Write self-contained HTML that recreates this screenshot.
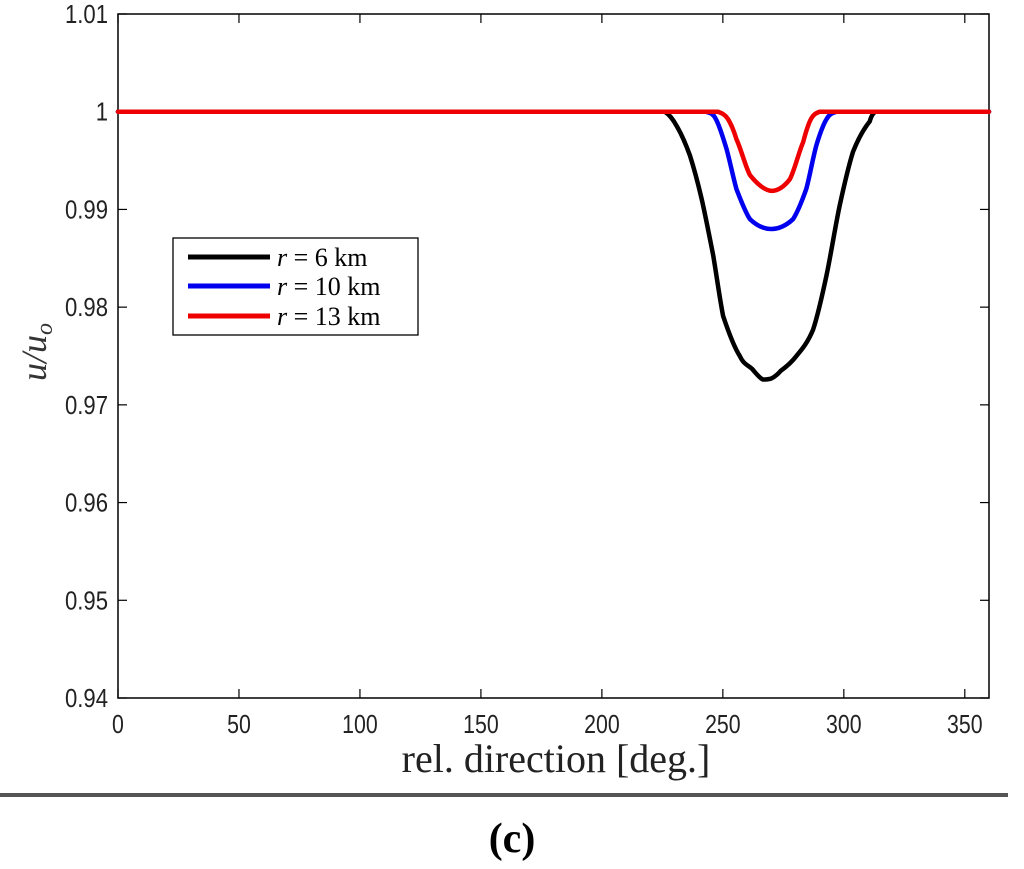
<!DOCTYPE html>
<html><head><meta charset="utf-8"><style>
body{margin:0;background:#fff;width:1024px;height:864px;overflow:hidden}
.sans{font-family:"Liberation Sans",sans-serif}
.serif{font-family:"Liberation Serif",serif}
</style></head><body>
<svg id="chart" width="1024" height="864" xmlns="http://www.w3.org/2000/svg">
<g id="axes"></g>
<g id="series"></g>
<g>
<rect x="173" y="238" width="245" height="97" fill="#fff" stroke="#000" stroke-width="1.3"/>
<line x1="188" y1="257" x2="270" y2="257" stroke="#000" stroke-width="5"/>
<text class="serif" x="277" y="266" font-size="26"><tspan font-style="italic">r</tspan> = 6 km</text>
<line x1="188" y1="286" x2="270" y2="286" stroke="#0000ee" stroke-width="5"/>
<text class="serif" x="277" y="295" font-size="26"><tspan font-style="italic">r</tspan> = 10 km</text>
<line x1="188" y1="316" x2="270" y2="316" stroke="#ee0000" stroke-width="5"/>
<text class="serif" x="277" y="325" font-size="26"><tspan font-style="italic">r</tspan> = 13 km</text>
</g>
<text class="serif" x="556" y="772" text-anchor="middle" font-size="40" fill="#222">rel. direction [deg.]</text>
<text class="serif" transform="translate(46,352) rotate(-90)" text-anchor="middle" font-style="italic" font-size="36" fill="#333">u/u<tspan font-size="24" dy="6">o</tspan></text>
<rect x="0" y="793" width="1008" height="4" fill="#555"/>
<text class="serif" x="512" y="852" text-anchor="middle" font-size="42" font-weight="bold">(c)</text>
</svg>
<script>
const xTicks=[0,50,100,150,200,250,300,350];
const yTicks=[0.94,0.95,0.96,0.97,0.98,0.99,1,1.01];
const yTickLabels=["0.94","0.95","0.96","0.97","0.98","0.99","1","1.01"];
const dir6=[0,226,231,236.4,241.2,246,250.1,257,262,266.5,270,274,280.4,287.3,292.8,298.3,303.8,310.7,313,360];
const val6=[1,1,0.9985,0.9955,0.9911,0.9853,0.9791,0.975,0.9737,0.9726,0.9727,0.9735,0.975,0.9777,0.9832,0.9904,0.9959,0.999,1,1];
const dir10=[0,243,247,251.5,255.6,261.2,270,279,284.5,288.7,293,297,360];
const val10=[1,1,0.9993,0.9962,0.9921,0.989,0.988,0.989,0.9921,0.9966,0.9993,1,1];
const dir13=[0,248,252,255.6,261.2,270,277.7,283.2,286.5,290,360];
const val13=[1,1,0.9993,0.9972,0.9935,0.9919,0.9931,0.9969,0.9993,1,1];
const X0=118,X1=989,Y0=698,Y1=14;
const xs=d=>X0+d*(X1-X0)/360;
const ys=v=>Y0-(v-0.94)*(Y0-Y1)/0.07;
const NS="http://www.w3.org/2000/svg";
const ax=document.getElementById('axes'),se=document.getElementById('series');
function mk(tag,at,parent){const e=document.createElementNS(NS,tag);for(const k in at)e.setAttribute(k,at[k]);parent.appendChild(e);return e;}
const fr=mk('rect',{x:X0,y:Y1,width:X1-X0,height:Y0-Y1,fill:'none',stroke:'#000','stroke-width':1.5},ax);


xTicks.forEach(t=>{const x=xs(t);
const a=mk('line',{x1:x,y1:Y0,x2:x,y2:Y0-9,stroke:'#000','stroke-width':1.2},ax);


const b=mk('line',{x1:x,y1:Y1,x2:x,y2:Y1+9,stroke:'#000','stroke-width':1.2},ax);


const l=mk('text',{class:'sans',x:x,y:Y0+35,'text-anchor':'middle','font-size':26,fill:'#222',transform:`translate(${x},0) scale(0.82,1) translate(${-x},0)`},ax);l.textContent=t;

});
yTicks.forEach((t,i)=>{const y=ys(t);
const a=mk('line',{x1:X0,y1:y,x2:X0+9,y2:y,stroke:'#000','stroke-width':1.2},ax);


const b=mk('line',{x1:X1,y1:y,x2:X1-9,y2:y,stroke:'#000','stroke-width':1.2},ax);


const l=mk('text',{class:'sans',x:X0-10,y:y+9,'text-anchor':'end','font-size':26,fill:'#222',transform:`translate(${X0-10},0) scale(0.85,1) translate(${-(X0-10)},0)`},ax);l.textContent=yTickLabels[i];

});
function line(d,v,c,n){const P=d.map((x,i)=>[xs(x),ys(v[i])]);
let p='M'+P[0][0].toFixed(1)+','+P[0][1].toFixed(1);
for(let i=0;i<P.length-1;i++){const p0=P[Math.max(0,i-1)],p1=P[i],p2=P[i+1],p3=P[Math.min(P.length-1,i+2)];
let c1y=p1[1]+(p2[1]-p0[1])/6,c2y=p2[1]-(p3[1]-p1[1])/6;
const lo=Math.min(p1[1],p2[1]),hi=Math.max(p1[1],p2[1]);
c1y=Math.min(Math.max(c1y,Math.min(lo,ys(1))),Math.max(hi,ys(1))); c2y=Math.min(Math.max(c2y,Math.min(lo,ys(1))),Math.max(hi,ys(1)));
const c1x=p1[0]+(p2[0]-p1[0])/3,c2x=p2[0]-(p2[0]-p1[0])/3;
p+=`C${c1x.toFixed(1)},${c1y.toFixed(1)} ${c2x.toFixed(1)},${c2y.toFixed(1)} ${p2[0].toFixed(1)},${p2[1].toFixed(1)}`;}
const e=mk('path',{d:p,fill:'none',stroke:c,'stroke-width':4.5,'stroke-linejoin':'round','stroke-linecap':'round'},se);

}
line(dir6,val6,'#000','line-r6km');
line(dir10,val10,'#0000ee','line-r10km');
line(dir13,val13,'#ee0000','line-r13km');
</script>
</body></html>
